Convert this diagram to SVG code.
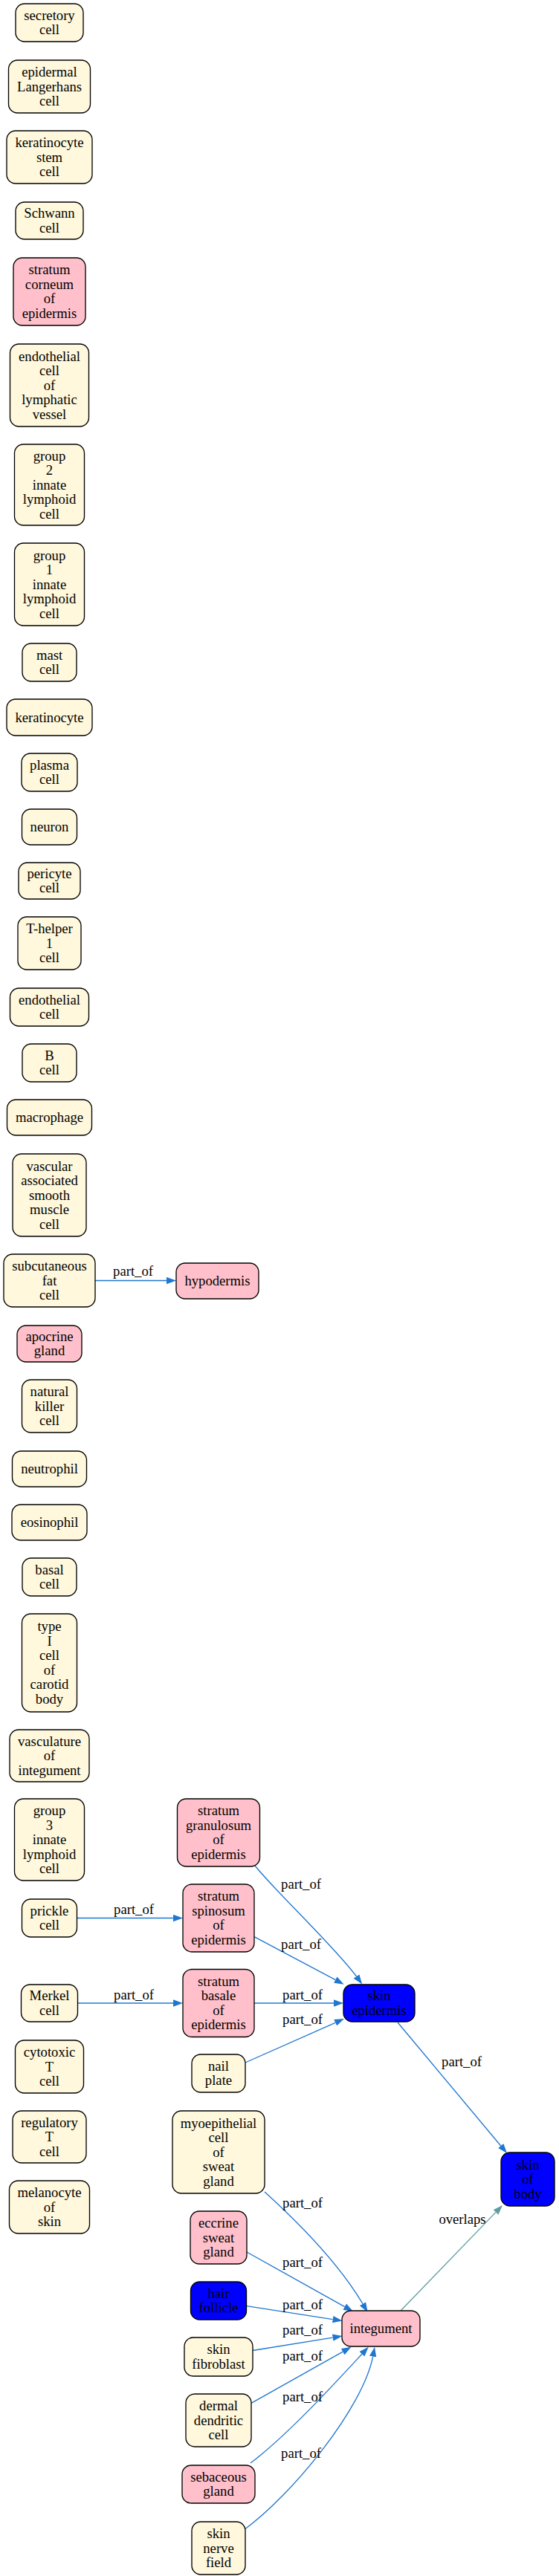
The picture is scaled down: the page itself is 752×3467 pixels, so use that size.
<svg xmlns="http://www.w3.org/2000/svg" width="752" height="3467" viewBox="0 0 752 3467">
<style>
text{font-family:"Liberation Serif","Times New Roman",serif;font-size:18.67px;fill:#000;text-anchor:middle}
.c{fill:#fff8dc;stroke:#000;stroke-width:1.33}
.p{fill:#ffc0cb;stroke:#000;stroke-width:1.33}
.b{fill:#0000ff;stroke:#000;stroke-width:1.33}
.e{fill:none;stroke:#1f77d0;stroke-width:1.33;marker-end:url(#ab)}
.o{fill:none;stroke:#5f9ea0;stroke-width:1.33;marker-end:url(#at)}
</style>
<defs>
<marker id="ab" viewBox="0 0 13 10" refX="0" refY="5" markerWidth="13" markerHeight="10" markerUnits="userSpaceOnUse" orient="auto"><path d="M0,0.3 L13,5 L0,9.7 z" fill="#1f77d0"/></marker>
<marker id="at" viewBox="0 0 13 10" refX="0" refY="5" markerWidth="13" markerHeight="10" markerUnits="userSpaceOnUse" orient="auto"><path d="M0,0.3 L13,5 L0,9.7 z" fill="#5f9ea0"/></marker>
</defs>
<rect width="752" height="3467" fill="#fff"/>
<g id="connectors">
<path class="e" d="M128,1723.5 L224,1723.5"/><text x="179" y="1717">part_of</text>
<path class="e" d="M104,2581.5 L233,2581.5"/><text x="180" y="2576">part_of</text>
<path class="e" d="M104.5,2696 L233,2696"/><text x="180" y="2691">part_of</text>
<path class="e" d="M342,2696 L449,2696"/><text x="407" y="2691">part_of</text>
<path class="e" d="M343,2511 C370,2545 450,2620 479.5,2660"/><text x="405" y="2542">part_of</text>
<path class="e" d="M342,2606.7 L451.2,2664.6"/><text x="405" y="2623">part_of</text>
<path class="e" d="M330,2776 L451.1,2722.3"/><text x="407" y="2724">part_of</text>
<path class="e" d="M535,2722 L673.7,2888"/><text x="621" y="2781">part_of</text>
<path class="o" d="M539,3110 L667,2977.4"/><text x="622" y="2993">overlaps</text>
<path class="e" d="M356,2950 C400,2990 455,3045 488,3100.7"/><text x="407" y="2971">part_of</text>
<path class="e" d="M332,3031 L463.7,3104.6"/><text x="407" y="3051">part_of</text>
<path class="e" d="M332,3103.6 L447.7,3121.6"/><text x="407" y="3108">part_of</text>
<path class="e" d="M340,3163.5 L447.7,3146.1"/><text x="407" y="3142">part_of</text>
<path class="e" d="M338,3234.4 L461.2,3165.2"/><text x="407" y="3177">part_of</text>
<path class="e" d="M337,3315 C385,3279 446,3212.4 486.9,3168.3"/><text x="407" y="3232">part_of</text>
<path class="e" d="M328,3405 C393,3358 488.6,3240 501.6,3171.6"/><text x="405" y="3308">part_of</text>
</g>
<g id="secretory_cell"><rect class="c" x="21" y="5" width="91" height="51" rx="12"/><text><tspan x="66.5" y="26.75">secretory</tspan><tspan x="66.5" y="46.25">cell</tspan></text></g>
<g id="epidermal_langerhans_cell"><rect class="c" x="11.5" y="81" width="110" height="71" rx="12"/><text><tspan x="66.5" y="103">epidermal</tspan><tspan x="66.5" y="122.5">Langerhans</tspan><tspan x="66.5" y="142">cell</tspan></text></g>
<g id="keratinocyte_stem_cell"><rect class="c" x="9" y="176" width="115" height="71" rx="12"/><text><tspan x="66.5" y="198">keratinocyte</tspan><tspan x="66.5" y="217.5">stem</tspan><tspan x="66.5" y="237">cell</tspan></text></g>
<g id="schwann_cell"><rect class="c" x="21" y="272" width="91" height="50" rx="12"/><text><tspan x="66.5" y="293.25">Schwann</tspan><tspan x="66.5" y="312.75">cell</tspan></text></g>
<g id="stratum_corneum"><rect class="p" x="18" y="347" width="97" height="91" rx="12"/><text><tspan x="66.5" y="369.25">stratum</tspan><tspan x="66.5" y="388.75">corneum</tspan><tspan x="66.5" y="408.25">of</tspan><tspan x="66.5" y="427.75">epidermis</tspan></text></g>
<g id="endothelial_cell_lymphatic"><rect class="c" x="13.5" y="463" width="106" height="111" rx="12"/><text><tspan x="66.5" y="485.5">endothelial</tspan><tspan x="66.5" y="505">cell</tspan><tspan x="66.5" y="524.5">of</tspan><tspan x="66.5" y="544">lymphatic</tspan><tspan x="66.5" y="563.5">vessel</tspan></text></g>
<g id="group2_ilc"><rect class="c" x="19.5" y="598" width="94" height="109" rx="12"/><text><tspan x="66.5" y="619.5">group</tspan><tspan x="66.5" y="639">2</tspan><tspan x="66.5" y="658.5">innate</tspan><tspan x="66.5" y="678">lymphoid</tspan><tspan x="66.5" y="697.5">cell</tspan></text></g>
<g id="group1_ilc"><rect class="c" x="19.5" y="731" width="94" height="111" rx="12"/><text><tspan x="66.5" y="753.5">group</tspan><tspan x="66.5" y="773">1</tspan><tspan x="66.5" y="792.5">innate</tspan><tspan x="66.5" y="812">lymphoid</tspan><tspan x="66.5" y="831.5">cell</tspan></text></g>
<g id="mast_cell"><rect class="c" x="30" y="866" width="73" height="51" rx="12"/><text><tspan x="66.5" y="887.75">mast</tspan><tspan x="66.5" y="907.25">cell</tspan></text></g>
<g id="keratinocyte"><rect class="c" x="9" y="941" width="115" height="49" rx="12"/><text x="66.5" y="971.5">keratinocyte</text></g>
<g id="plasma_cell"><rect class="c" x="29" y="1014" width="75" height="51" rx="12"/><text><tspan x="66.5" y="1035.75">plasma</tspan><tspan x="66.5" y="1055.25">cell</tspan></text></g>
<g id="neuron"><rect class="c" x="29.5" y="1089" width="74" height="48" rx="12"/><text x="66.5" y="1119">neuron</text></g>
<g id="pericyte_cell"><rect class="c" x="25" y="1161" width="83" height="49" rx="12"/><text><tspan x="66.5" y="1181.75">pericyte</tspan><tspan x="66.5" y="1201.25">cell</tspan></text></g>
<g id="t_helper_1_cell"><rect class="c" x="24" y="1234" width="85" height="71" rx="12"/><text><tspan x="66.5" y="1256">T-helper</tspan><tspan x="66.5" y="1275.5">1</tspan><tspan x="66.5" y="1295">cell</tspan></text></g>
<g id="endothelial_cell"><rect class="c" x="13.5" y="1330" width="106" height="51" rx="12"/><text><tspan x="66.5" y="1351.75">endothelial</tspan><tspan x="66.5" y="1371.25">cell</tspan></text></g>
<g id="b_cell"><rect class="c" x="30" y="1405" width="73" height="51" rx="12"/><text><tspan x="66.5" y="1426.75">B</tspan><tspan x="66.5" y="1446.25">cell</tspan></text></g>
<g id="macrophage"><rect class="c" x="9.5" y="1480" width="114" height="48" rx="12"/><text x="66.5" y="1510">macrophage</text></g>
<g id="vascular_smooth_muscle_cell"><rect class="c" x="17" y="1553" width="99" height="111" rx="12"/><text><tspan x="66.5" y="1575.5">vascular</tspan><tspan x="66.5" y="1595">associated</tspan><tspan x="66.5" y="1614.5">smooth</tspan><tspan x="66.5" y="1634">muscle</tspan><tspan x="66.5" y="1653.5">cell</tspan></text></g>
<g id="subcutaneous_fat_cell"><rect class="c" x="5" y="1688" width="123" height="71" rx="12"/><text><tspan x="66.5" y="1710">subcutaneous</tspan><tspan x="66.5" y="1729.5">fat</tspan><tspan x="66.5" y="1749">cell</tspan></text></g>
<g id="hypodermis"><rect class="p" x="237" y="1700" width="111" height="48" rx="12"/><text x="292.5" y="1730">hypodermis</text></g>
<g id="apocrine_gland"><rect class="p" x="23" y="1784" width="87" height="49" rx="12"/><text><tspan x="66.5" y="1804.75">apocrine</tspan><tspan x="66.5" y="1824.25">gland</tspan></text></g>
<g id="natural_killer_cell"><rect class="c" x="29.5" y="1857" width="74" height="71" rx="12"/><text><tspan x="66.5" y="1879">natural</tspan><tspan x="66.5" y="1898.5">killer</tspan><tspan x="66.5" y="1918">cell</tspan></text></g>
<g id="neutrophil"><rect class="c" x="16.5" y="1953" width="100" height="48" rx="12"/><text x="66.5" y="1983">neutrophil</text></g>
<g id="eosinophil"><rect class="c" x="16" y="2025" width="101" height="48" rx="12"/><text x="66.5" y="2055">eosinophil</text></g>
<g id="basal_cell"><rect class="c" x="30" y="2097" width="73" height="51" rx="12"/><text><tspan x="66.5" y="2118.75">basal</tspan><tspan x="66.5" y="2138.25">cell</tspan></text></g>
<g id="type_i_cell_carotid_body"><rect class="c" x="29.5" y="2172" width="74" height="132" rx="12"/><text><tspan x="66.5" y="2195.25">type</tspan><tspan x="66.5" y="2214.75">I</tspan><tspan x="66.5" y="2234.25">cell</tspan><tspan x="66.5" y="2253.75">of</tspan><tspan x="66.5" y="2273.25">carotid</tspan><tspan x="66.5" y="2292.75">body</tspan></text></g>
<g id="vasculature_of_integument"><rect class="c" x="13" y="2328" width="107" height="70" rx="12"/><text><tspan x="66.5" y="2349.5">vasculature</tspan><tspan x="66.5" y="2369">of</tspan><tspan x="66.5" y="2388.5">integument</tspan></text></g>
<g id="group3_ilc"><rect class="c" x="19.5" y="2421" width="94" height="110" rx="12"/><text><tspan x="66.5" y="2443">group</tspan><tspan x="66.5" y="2462.5">3</tspan><tspan x="66.5" y="2482">innate</tspan><tspan x="66.5" y="2501.5">lymphoid</tspan><tspan x="66.5" y="2521">cell</tspan></text></g>
<g id="prickle_cell"><rect class="c" x="29.5" y="2556" width="74" height="51" rx="12"/><text><tspan x="66.5" y="2577.75">prickle</tspan><tspan x="66.5" y="2597.25">cell</tspan></text></g>
<g id="merkel_cell"><rect class="c" x="28.5" y="2671" width="76" height="50" rx="12"/><text><tspan x="66.5" y="2692.25">Merkel</tspan><tspan x="66.5" y="2711.75">cell</tspan></text></g>
<g id="cytotoxic_t_cell"><rect class="c" x="20.5" y="2746" width="92" height="71" rx="12"/><text><tspan x="66.5" y="2768">cytotoxic</tspan><tspan x="66.5" y="2787.5">T</tspan><tspan x="66.5" y="2807">cell</tspan></text></g>
<g id="regulatory_t_cell"><rect class="c" x="17" y="2841" width="99" height="70" rx="12"/><text><tspan x="66.5" y="2862.5">regulatory</tspan><tspan x="66.5" y="2882">T</tspan><tspan x="66.5" y="2901.5">cell</tspan></text></g>
<g id="melanocyte_of_skin"><rect class="c" x="12.5" y="2935" width="108" height="71" rx="12"/><text><tspan x="66.5" y="2957">melanocyte</tspan><tspan x="66.5" y="2976.5">of</tspan><tspan x="66.5" y="2996">skin</tspan></text></g>
<g id="stratum_granulosum"><rect class="p" x="238.5" y="2421" width="111" height="91" rx="12"/><text><tspan x="294" y="2443.25">stratum</tspan><tspan x="294" y="2462.75">granulosum</tspan><tspan x="294" y="2482.25">of</tspan><tspan x="294" y="2501.75">epidermis</tspan></text></g>
<g id="stratum_spinosum"><rect class="p" x="246" y="2536" width="96" height="91" rx="12"/><text><tspan x="294" y="2558.25">stratum</tspan><tspan x="294" y="2577.75">spinosum</tspan><tspan x="294" y="2597.25">of</tspan><tspan x="294" y="2616.75">epidermis</tspan></text></g>
<g id="stratum_basale"><rect class="p" x="246" y="2650.5" width="96" height="91" rx="12"/><text><tspan x="294" y="2672.75">stratum</tspan><tspan x="294" y="2692.25">basale</tspan><tspan x="294" y="2711.75">of</tspan><tspan x="294" y="2731.25">epidermis</tspan></text></g>
<g id="nail_plate"><rect class="c" x="258" y="2765" width="72" height="51" rx="12"/><text><tspan x="294" y="2786.75">nail</tspan><tspan x="294" y="2806.25">plate</tspan></text></g>
<g id="myoepithelial_cell"><rect class="c" x="232" y="2841" width="124" height="111" rx="12"/><text><tspan x="294" y="2863.5">myoepithelial</tspan><tspan x="294" y="2883">cell</tspan><tspan x="294" y="2902.5">of</tspan><tspan x="294" y="2922">sweat</tspan><tspan x="294" y="2941.5">gland</tspan></text></g>
<g id="eccrine_sweat_gland"><rect class="p" x="256" y="2976" width="76" height="71" rx="12"/><text><tspan x="294" y="2998">eccrine</tspan><tspan x="294" y="3017.5">sweat</tspan><tspan x="294" y="3037">gland</tspan></text></g>
<g id="hair_follicle"><rect class="b" x="256.5" y="3071" width="75" height="51" rx="12"/><text><tspan x="294" y="3092.75">hair</tspan><tspan x="294" y="3112.25">follicle</tspan></text></g>
<g id="skin_fibroblast"><rect class="c" x="248" y="3146" width="92" height="52" rx="12"/><text><tspan x="294" y="3168.25">skin</tspan><tspan x="294" y="3187.75">fibroblast</tspan></text></g>
<g id="dermal_dendritic_cell"><rect class="c" x="250" y="3222" width="88" height="71" rx="12"/><text><tspan x="294" y="3244">dermal</tspan><tspan x="294" y="3263.5">dendritic</tspan><tspan x="294" y="3283">cell</tspan></text></g>
<g id="sebaceous_gland"><rect class="p" x="245" y="3318" width="98" height="51" rx="12"/><text><tspan x="294" y="3339.75">sebaceous</tspan><tspan x="294" y="3359.25">gland</tspan></text></g>
<g id="skin_nerve_field"><rect class="c" x="258" y="3394" width="72" height="71" rx="12"/><text><tspan x="294" y="3416">skin</tspan><tspan x="294" y="3435.5">nerve</tspan><tspan x="294" y="3455">field</tspan></text></g>
<g id="skin_epidermis"><rect class="b" x="462" y="2671" width="96" height="50" rx="12"/><text><tspan x="510" y="2692.25">skin</tspan><tspan x="510" y="2711.75">epidermis</tspan></text></g>
<g id="integument"><rect class="p" x="460" y="3110" width="105" height="48" rx="12"/><text x="512.5" y="3140">integument</text></g>
<g id="skin_of_body"><rect class="b" x="674" y="2897" width="72" height="72" rx="12"/><text><tspan x="710" y="2919.5">skin</tspan><tspan x="710" y="2939">of</tspan><tspan x="710" y="2958.5">body</tspan></text></g>
</svg>
